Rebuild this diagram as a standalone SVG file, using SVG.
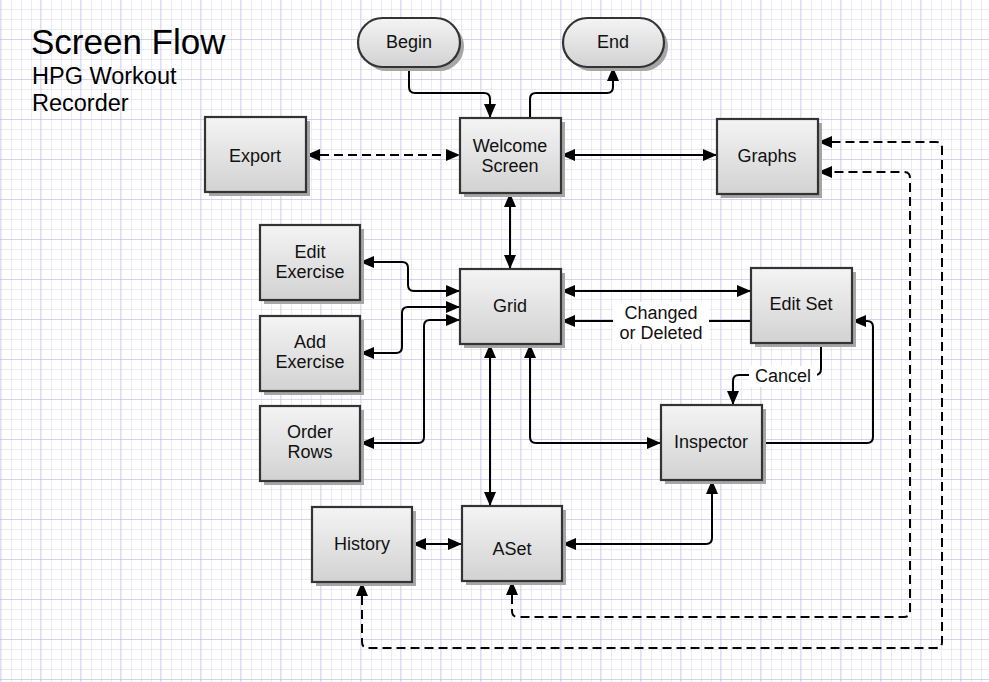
<svg xmlns="http://www.w3.org/2000/svg" width="989" height="682" viewBox="0 0 989 682">
<defs>
<pattern id="minor" width="10" height="10" patternUnits="userSpaceOnUse" x="1" y="0">
<path d="M10,0 V10 M0,10 H10" fill="none" stroke="#d6d6ee" stroke-width="1"/>
</pattern>
<pattern id="major" width="40" height="40" patternUnits="userSpaceOnUse" x="1" y="0">
<rect width="40" height="40" fill="url(#minor)"/>
<path d="M40,0 V40 M0,40 H40" fill="none" stroke="#bebee2" stroke-width="1"/>
</pattern>
<linearGradient id="g" x1="0" y1="0" x2="0" y2="1">
<stop offset="0" stop-color="#f4f4f4"/>
<stop offset="1" stop-color="#d2d2d2"/>
</linearGradient>
<marker id="ah" markerUnits="userSpaceOnUse" markerWidth="14" markerHeight="12" refX="14" refY="6" orient="auto-start-reverse">
<path d="M0,0 L14,6 L0,12 z" fill="#000"/>
</marker>
</defs>
<style>
.box{fill:url(#g);stroke:#333;stroke-width:2.2}
.sh{fill:#a6a6a6}
.t{font-family:"Liberation Sans",Arial,sans-serif;font-size:18px;fill:#111;text-anchor:middle}
.c{fill:none;stroke:#000;stroke-width:2}
.d{stroke-dasharray:9 5}
.b{marker-start:url(#ah);marker-end:url(#ah)}
.e{marker-end:url(#ah)}
.lbl{font-family:"Liberation Sans",Arial,sans-serif;font-size:18px;fill:#111;text-anchor:middle}
</style>
<rect width="989" height="682" fill="#fff"/>
<rect width="989" height="682" fill="url(#major)"/>
<g id="title">
<text x="31" y="54" font-family="'Liberation Sans',Arial,sans-serif" font-size="35" fill="#000">Screen Flow</text>
<text x="32" y="84" font-family="'Liberation Sans',Arial,sans-serif" font-size="23.5" fill="#000">HPG Workout</text>
<text x="32" y="111" font-family="'Liberation Sans',Arial,sans-serif" font-size="23.5" fill="#000">Recorder</text>
</g>
<g id="connectors">
<path class="c e" d="M409,67 V87 Q409,93 415,93 H484 Q490,93 490,99 V118"/>
<path class="c e" d="M530,118 V99 Q530,93 536,93 H607 Q613,93 613,87 V67"/>
<path class="c d b" d="M306,155 H460"/>
<path class="c b" d="M561,155 H717"/>
<path class="c b" d="M510,193 V269"/>
<path class="c b" d="M360,262 H402 Q408,262 408,268 V285 Q408,291 414,291 H460"/>
<path class="c b" d="M360,353 H396 Q402,353 402,347 V313 Q402,307 408,307 H460"/>
<path class="c b" d="M360,443 H418 Q424,443 424,437 V326 Q424,320 430,320 H460"/>
<path class="c b" d="M561,291 H751"/>
<path class="c e" d="M751,321 H561"/>
<path class="c e" d="M821,343 V369 Q821,375 815,375 H739 Q733,375 733,381 V405"/>
<path class="c e" d="M762,443 H867 Q873,443 873,437 V327 Q873,321 867,321 H852"/>
<path class="c b" d="M530,344 V437 Q530,443 536,443 H661"/>
<path class="c b" d="M490,344 V506"/>
<path class="c b" d="M412,544 H462"/>
<path class="c b" d="M562,544 H706 Q712,544 712,538 V480"/>
<path class="c d b" d="M512,581 V611 Q512,617 518,617 H904 Q910,617 910,611 V178 Q910,172 904,172 H818"/>
<path class="c d b" d="M362,582 V642 Q362,648 368,648 H936 Q942,648 942,642 V148 Q942,142 936,142 H818"/>
<g id="label-changed">
<rect x="613" y="302" width="96" height="42" fill="#fff"/>
<text class="lbl" x="661" y="319">Changed</text>
<text class="lbl" x="661" y="339">or Deleted</text>
</g>
<g id="label-cancel">
<rect x="749" y="366" width="68" height="21" fill="#fff"/>
<text class="lbl" x="783" y="382">Cancel</text>
</g>
</g>
<g id="begin">
<rect class="sh" x="362" y="22" width="102" height="49" rx="24.5"/>
<rect class="box" x="358" y="18" width="102" height="49" rx="24.5"/>
<text class="t" x="409" y="48">Begin</text>
</g>
<g id="end">
<rect class="sh" x="567" y="22" width="101" height="49" rx="24.5"/>
<rect class="box" x="563" y="18" width="101" height="49" rx="24.5"/>
<text class="t" x="613" y="48">End</text>
</g>
<g id="welcome">
<rect class="sh" x="464" y="122" width="101" height="75"/>
<rect class="box" x="460" y="118" width="101" height="75"/>
<text class="t" x="510" y="152">Welcome</text>
<text class="t" x="510" y="172">Screen</text>
</g>
<g id="export">
<rect class="sh" x="209" y="121" width="101" height="75"/>
<rect class="box" x="205" y="117" width="101" height="75"/>
<text class="t" x="255" y="162">Export</text>
</g>
<g id="graphs">
<rect class="sh" x="721" y="123" width="101" height="75"/>
<rect class="box" x="717" y="119" width="101" height="75"/>
<text class="t" x="767" y="162">Graphs</text>
</g>
<g id="edit-exercise">
<rect class="sh" x="264" y="229" width="100" height="75"/>
<rect class="box" x="260" y="225" width="100" height="75"/>
<text class="t" x="310" y="258">Edit</text>
<text class="t" x="310" y="278">Exercise</text>
</g>
<g id="add-exercise">
<rect class="sh" x="264" y="320" width="100" height="75"/>
<rect class="box" x="260" y="316" width="100" height="75"/>
<text class="t" x="310" y="348">Add</text>
<text class="t" x="310" y="368">Exercise</text>
</g>
<g id="order-rows">
<rect class="sh" x="264" y="410" width="100" height="75"/>
<rect class="box" x="260" y="406" width="100" height="75"/>
<text class="t" x="310" y="438">Order</text>
<text class="t" x="310" y="458">Rows</text>
</g>
<g id="grid">
<rect class="sh" x="464" y="273" width="101" height="75"/>
<rect class="box" x="460" y="269" width="101" height="75"/>
<text class="t" x="510" y="312">Grid</text>
</g>
<g id="edit-set">
<rect class="sh" x="755" y="272" width="101" height="75"/>
<rect class="box" x="751" y="268" width="101" height="75"/>
<text class="t" x="801" y="310">Edit Set</text>
</g>
<g id="inspector">
<rect class="sh" x="665" y="409" width="101" height="75"/>
<rect class="box" x="661" y="405" width="101" height="75"/>
<text class="t" x="711" y="448">Inspector</text>
</g>
<g id="history">
<rect class="sh" x="316" y="511" width="100" height="75"/>
<rect class="box" x="312" y="507" width="100" height="75"/>
<text class="t" x="362" y="550">History</text>
</g>
<g id="aset">
<rect class="sh" x="466" y="510" width="100" height="75"/>
<rect class="box" x="462" y="506" width="100" height="75"/>
<text class="t" x="512" y="555">ASet</text>
</g>
</svg>
